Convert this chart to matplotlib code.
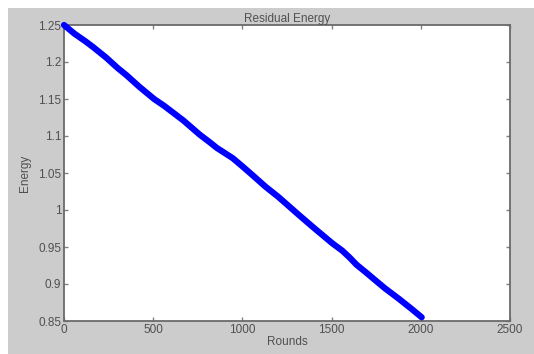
import matplotlib
matplotlib.use("Agg")
import matplotlib.pyplot as plt
from matplotlib.patches import Rectangle

rounds = [0, 60, 120, 164, 236, 300, 351, 420, 505, 560, 620, 669, 760, 820, 856,
          946, 1000, 1043, 1132, 1200, 1318, 1400, 1504, 1560, 1600, 1640, 1691,
          1760, 1800, 1877, 1950, 2005]
energy = [1.250, 1.238, 1.228, 1.220, 1.206, 1.192, 1.182, 1.167, 1.150, 1.141, 1.130,
          1.121, 1.102, 1.091, 1.084, 1.070, 1.059, 1.050, 1.031, 1.018, 0.993, 0.976,
          0.955, 0.945, 0.936, 0.926, 0.916, 0.902, 0.894, 0.880, 0.866, 0.855]

xticks = [0, 500, 1000, 1500, 2000, 2500]
xticklabels = ["0", "500", "1000", "1500", "2000", "2500"]
yticks = [0.85, 0.9, 0.95, 1.0, 1.05, 1.1, 1.15, 1.2, 1.25]
yticklabels = ["0.85", "0.9", "0.95", "1", "1.05", "1.1", "1.15", "1.2", "1.25"]

plt.rcParams['font.family'] = ['Liberation Sans', 'DejaVu Sans']
W, H = 534, 354
fig = plt.figure(figsize=(W / 100, H / 100), dpi=100, facecolor='white')
fig.patches.append(Rectangle((8 / W, 0), 1, 1 - 8 / H, transform=fig.transFigure,
                             facecolor='#cccccc', edgecolor='none', zorder=-10))

ax = fig.add_axes([64 / W, (H - 321) / H, (510 - 64) / W, (321 - 25) / H])
ax.set_zorder(1)
ax.set_facecolor('white')
ax.plot(rounds, energy, color='#0000ff', lw=4.5, solid_capstyle='round',
        solid_joinstyle='round', zorder=3, clip_on=False)
ax.set_xlim(0, 2500)
ax.set_ylim(0.85, 1.25)
ax.set_xticks(xticks)
ax.set_xticklabels(xticklabels)
ax.set_yticks(yticks)
ax.set_yticklabels(yticklabels)
tc = '#505050'
fs = 8.5
ax.tick_params(direction='in', length=3, width=1, colors='#808080', labelcolor=tc,
               labelsize=fs, top=True, right=True, pad=2)
for s in ax.spines.values():
    s.set_color('#6a6a6a')
    s.set_linewidth(1.3)
ax.set_title("Residual Energy", fontsize=fs, color=tc, pad=2)
ax.set_xlabel("Rounds", fontsize=fs, color=tc, labelpad=0)
ax.set_ylabel("Energy", fontsize=fs, color=tc, labelpad=5)

fig.savefig("out.png", dpi=100, facecolor=fig.get_facecolor())
